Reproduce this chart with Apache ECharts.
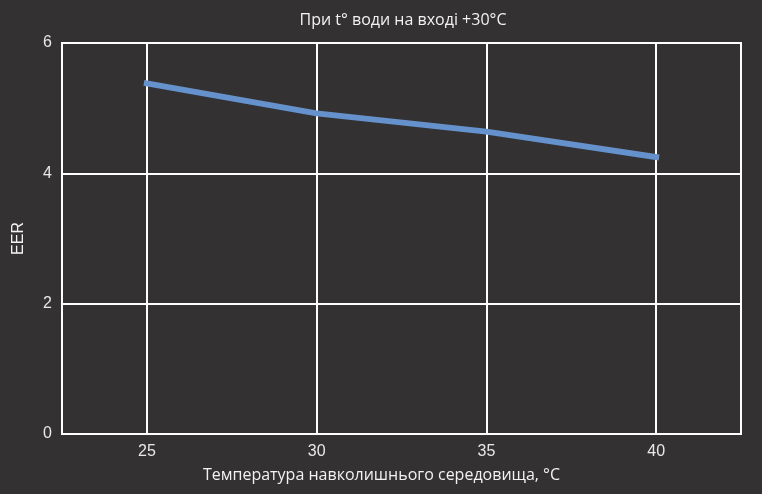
<!DOCTYPE html>
<html>
<head>
<meta charset="utf-8">
<script src="https://cdn.jsdelivr.net/npm/echarts@6/dist/echarts.min.js"></script>
<style>
  html, body { margin: 0; padding: 0; background: #333131; }
  #chart { width: 762px; height: 494px; }
</style>
</head>
<body>
<div id="chart"></div>
<script>
// дані з графіка
var temps = [25, 30, 35, 40];
var eer = [5.38, 4.92, 4.64, 4.25];
var xTicks = [25, 30, 35, 40];

var myChart = echarts.init(document.getElementById("chart"));

var option = {
  backgroundColor: "#333131",
  animation: false,
  title: {
    text: "При t° води на вході +30°C",
    left: 398,
    top: 7,
    textAlign: "center",
    textStyle: {
      color: "#f2f2f2",
      fontFamily: "Open Sans",
      fontWeight: "normal",
      fontSize: 16,
    },
  },
  grid: {
    left: 62,
    right: 21,
    top: 43,
    bottom: 60,
    show: true,
    borderColor: "#ffffff",
    borderWidth: 2,
  },
  xAxis: {
    type: "value",
    min: 22.5,
    max: 42.5,
    interval: 2.5,
    name: "Температура навколишнього середовища, °С",
    nameLocation: "middle",
    nameGap: 33,
    nameTextStyle: {
      color: "#f2f2f2",
      fontFamily: "Open Sans",
      fontSize: 16,
      padding: [0, 40, 0, 0],
    },
    axisLine: { show: true, lineStyle: { color: "#ffffff", width: 2 } },
    axisTick: { show: false },
    axisLabel: {
      color: "#e8e8e8",
      fontFamily: "Liberation Sans",
      fontSize: 16,
      margin: 10,
      formatter: function (v) {
        return xTicks.indexOf(v) >= 0 ? String(v) : "";
      },
    },
    splitLine: {
      show: true,
      lineStyle: { color: ["rgba(0,0,0,0)", "#ffffff"], width: 2 },
    },
  },
  yAxis: {
    type: "value",
    min: 0,
    max: 6,
    interval: 2,
    name: "EER",
    nameLocation: "middle",
    nameGap: 35,
    nameTextStyle: {
      color: "#f2f2f2",
      fontFamily: "Liberation Sans",
      fontSize: 16,
    },
    axisLine: { show: true, lineStyle: { color: "#ffffff", width: 2 } },
    axisTick: { show: false },
    axisLabel: {
      color: "#e8e8e8",
      fontFamily: "Liberation Sans",
      fontSize: 16,
      margin: 10,
    },
    splitLine: { show: true, lineStyle: { color: "#ffffff", width: 2 } },
  },
  series: [
    {
      type: "line",
      data: temps.map(function (t, i) {
        return [t, eer[i]];
      }),
      symbol: "none",
      lineStyle: { color: "#6592cc", width: 6, cap: "square" },
    },
  ],
};

myChart.setOption(option);
</script>
</body>
</html>
